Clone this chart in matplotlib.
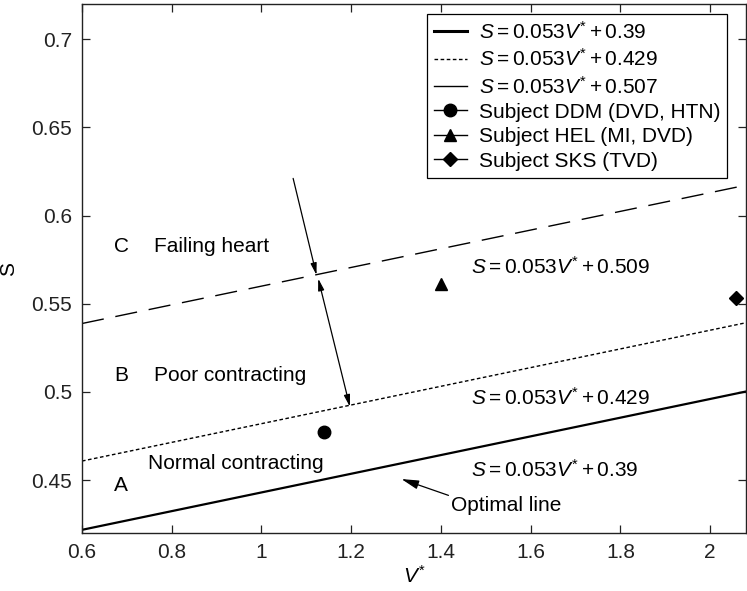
import matplotlib.pyplot as plt
import numpy as np
from matplotlib.lines import Line2D

plt.rcParams['font.family'] = ['Liberation Sans', 'DejaVu Sans']
plt.rcParams['mathtext.fontset'] = 'custom'
plt.rcParams['mathtext.rm'] = 'Liberation Sans'
plt.rcParams['mathtext.it'] = 'Liberation Sans:italic'

# Classification lines S = slope * V* + intercept
slope = 0.053
v_range = [0.6, 2.08]
intercept_optimal = 0.39
intercept_poor = 0.429
intercept_failing = 0.507

# Subjects (V*, S)
ddm = (1.14, 0.477)
hel = (1.40, 0.561)
sks = (2.058, 0.553)

FS = 15

fig = plt.figure(figsize=(7.47, 5.91), dpi=100)
ax = fig.add_axes([82 / 747, 1 - 533 / 591, 664 / 747, 529 / 591])

v = np.array(v_range)
ax.plot(v, slope * v + intercept_optimal, color='black', lw=1.6)
ax.plot(v, slope * v + intercept_poor, color='black', lw=1.0, dashes=(2.6, 1.8))
ax.plot(v, slope * v + intercept_failing, color='black', lw=1.0, dashes=(16, 8.5))

ax.plot(*ddm, marker='o', color='black', ms=9)
ax.plot(*hel, marker='^', color='black', ms=9)
ax.plot(*sks, marker='D', color='black', ms=7)

# Legend proxies
handles = [
    Line2D([], [], color='black', lw=2.2),
    Line2D([], [], color='black', lw=1.0, dashes=(2.6, 1.8)),
    Line2D([], [], color='black', lw=1.0),
    Line2D([], [], color='black', lw=1.0, marker='o', ms=9),
    Line2D([], [], color='black', lw=1.0, marker='^', ms=9),
    Line2D([], [], color='black', lw=1.0, marker='D', ms=7),
]
labels = [
    r'$S = 0.053V^{*} + 0.39$',
    r'$S = 0.053V^{*} + 0.429$',
    r'$S = 0.053V^{*} + 0.507$',
    'Subject DDM (DVD, HTN)',
    'Subject HEL (MI, DVD)',
    'Subject SKS (TVD)',
]
leg = ax.legend(handles, labels, loc='upper right', bbox_to_anchor=(0.972, 0.982),
                borderaxespad=0, fontsize=FS, fancybox=False, framealpha=1,
                edgecolor='black', handlelength=1.6, handletextpad=0.55,
                labelspacing=0.26, borderpad=0.35)
leg.get_frame().set_linewidth(0.9)

# Region labels
ax.text(0.671, 0.5823, 'C', fontsize=FS, va='center')
ax.text(0.760, 0.5823, 'Failing heart', fontsize=FS, va='center')
ax.text(0.671, 0.5096, 'B', fontsize=FS, va='center')
ax.text(0.760, 0.5096, 'Poor contracting', fontsize=FS, va='center')
ax.text(0.748, 0.4595, 'Normal contracting', fontsize=FS, va='center')
ax.text(0.672, 0.4472, 'A', fontsize=FS, va='center')

ax.text(1.468, 0.571, r'$S = 0.053V^{*} + 0.509$', fontsize=FS, va='center')
ax.text(1.468, 0.4969, r'$S = 0.053V^{*} + 0.429$', fontsize=FS, va='center')
ax.text(1.468, 0.456, r'$S = 0.053V^{*} + 0.39$', fontsize=FS, va='center')

arrow = dict(arrowstyle='-|>,head_length=0.7,head_width=0.18', color='black',
             lw=0.9, shrinkA=0, shrinkB=0)
ax.annotate('Optimal line', xy=(1.312, 0.4506), xytext=(1.423, 0.4354),
            fontsize=FS, va='center', ha='left',
            arrowprops=dict(arrow, relpos=(0, 1)))
ax.annotate('', xy=(1.1227, 0.5663), xytext=(1.0706, 0.6211), arrowprops=arrow)
ax.annotate('', xy=(1.1971, 0.4916), xytext=(1.1265, 0.5643),
            arrowprops=dict(arrowstyle='<|-|>,head_length=0.7,head_width=0.18',
                            color='black', lw=0.9, shrinkA=0, shrinkB=0))

ax.set_xlim(v_range)
ax.set_ylim(0.42, 0.72)
ax.set_xticks([0.6, 0.8, 1.0, 1.2, 1.4, 1.6, 1.8, 2.0])
ax.set_xticklabels(['0.6', '0.8', '1', '1.2', '1.4', '1.6', '1.8', '2'])
ax.set_yticks([0.45, 0.5, 0.55, 0.6, 0.65, 0.7])
ax.set_yticklabels(['0.45', '0.5', '0.55', '0.6', '0.65', '0.7'])
ax.tick_params(direction='in', top=True, right=True, length=5.5, width=0.9,
               labelsize=FS, colors='#222222', pad=7)
for sp in ax.spines.values():
    sp.set_linewidth(1.0)
    sp.set_color('#222222')

ax.set_xlabel(r'$V^{*}$', fontsize=FS, labelpad=2)
ax.set_ylabel('S', fontsize=FS, labelpad=10)

fig.savefig('out.png', dpi=100)
